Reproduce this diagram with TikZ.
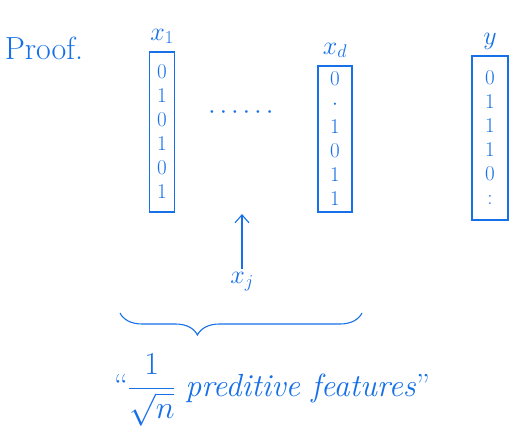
\RequirePackage{fix-cm}
\documentclass[tikz,border=0pt]{standalone}
\usepackage{amsmath, amssymb}
\usepackage{tikz}
\usetikzlibrary{positioning,decorations.pathreplacing,arrows.meta}
\definecolor{ink}{RGB}{22,112,232}

\begin{document}
\begin{tikzpicture}[
    x=1pt, y=1pt,
    every node/.style={text=ink},
    vec/.style={rectangle, draw=ink, line width=1.1pt, inner sep=0pt, text width=#1, align=center, font=\fontsize{21}{24}\selectfont},
    varname/.style={font=\fontsize{26}{30}\selectfont},
    arrow/.style={-{Straight Barb[length=8pt,width=14pt]}, line width=1.1pt, draw=ink}
]
\useasboundingbox (0,0) rectangle (514,426);

% Heading
\node[font=\fontsize{32}{36}\selectfont] (proof) at (44,378) {Proof.};

% Feature columns
\node[vec=25pt, minimum height=160pt] (col1) at (162,294) {0\\1\\0\\1\\0\\1};
\node[vec=34pt, minimum height=146pt] (cold) at (335,287) {0\\$\cdot$\\1\\0\\1\\1};

% Label column
\node[vec=36pt, minimum height=164pt] (coly) at (490,288) {0\\1\\1\\1\\0\\:};

% Column names
\node[varname, above=4pt of col1] (x1) {$x_1$};
\node[varname, above=4pt of cold] (xd) {$x_d$};
\node[varname, above=2pt of coly] (y) {$y$};

% Columns in between
\node[font=\fontsize{26}{30}\selectfont] (gap) at (243,313) {$\cdots\cdots$};

% Pointer to one predictive feature
\node[varname] (xj) at (242,144) {$x_j$};
\coordinate (tip) at (242,212);
\draw[arrow] (xj) -- (tip);

% Brace over the predictive features
\coordinate (brl) at (120,113);
\coordinate (brr) at (362,113);
\draw[draw=ink, line width=1.1pt, decorate, decoration={brace, mirror, amplitude=22pt, aspect=0.32}] (brl) -- (brr);

\node[font=\fontsize{32}{34}\selectfont] (caption) at (272,36)
    {``$\dfrac{1}{\sqrt{n}}$ \textit{preditive features}''};

\end{tikzpicture}
\end{document}
